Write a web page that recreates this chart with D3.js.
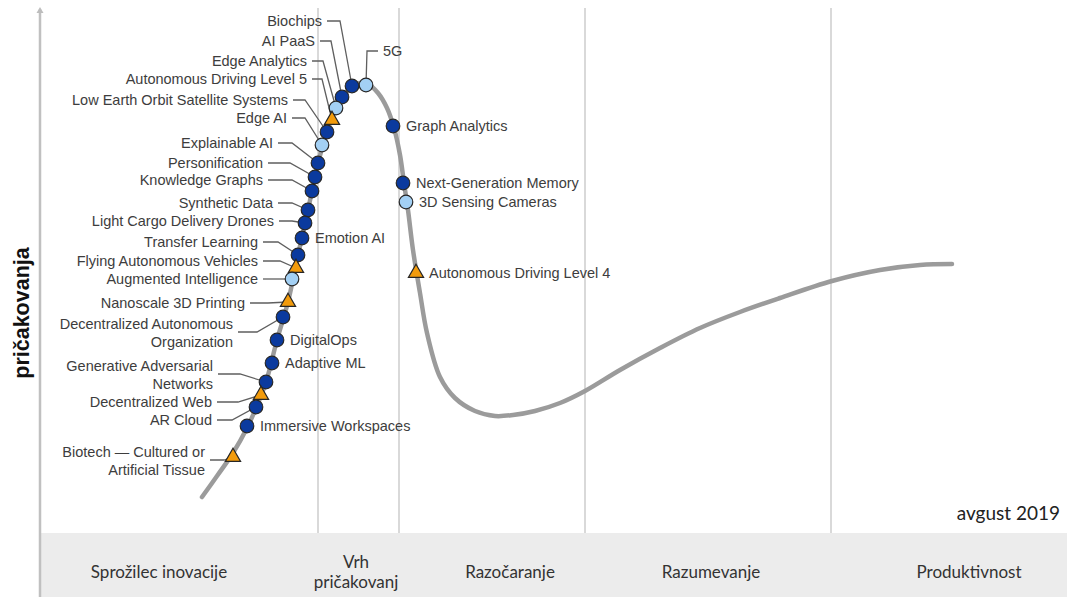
<!DOCTYPE html>
<html>
<head>
<meta charset="utf-8">
<script src="https://cdn.jsdelivr.net/npm/d3@7"></script>
<style>
  html, body { margin: 0; padding: 0; background: #fff; }
  svg { display: block; }
  .tech { font-family: "Liberation Sans", Arial, sans-serif; font-size: 14.5px; fill: #3d3d3d; }
  .phase { font-family: Lato, "Open Sans", sans-serif; font-size: 17px; fill: #333; }
</style>
</head>
<body>
<svg id="chart" width="1067" height="597"></svg>
<script>
// Hype cycle curve (x = time / maturity, y = expectations)
const curveX = [16.2, 17.7, 19.3, 20.7, 21.6, 22.6, 23.7, 24.8, 25.8, 26.8, 27.8, 28.7, 29.6, 30.4, 31.2, 32.0, 32.8, 33.8, 34.7, 35.4, 36.0, 36.4, 36.8, 37.3, 38.0, 38.7, 40.0, 41.5, 43.5, 45.5, 47.3, 49.5, 52.0, 54.5, 58.0, 62.0, 66.0, 70.0, 74.0, 79.2, 84.0, 88.0, 91.2];
const curveY = [7.2, 11.4, 16.0, 21.0, 25.0, 30.2, 38.6, 46.2, 55.6, 64.6, 74.0, 80.2, 85.0, 87.6, 89.2, 90.0, 89.8, 88.0, 85.0, 81.0, 75.6, 70.0, 64.6, 56.6, 48.0, 40.0, 31.2, 27.0, 24.4, 23.4, 23.6, 24.4, 26.0, 28.4, 32.6, 37.0, 41.0, 44.2, 47.0, 50.4, 52.6, 53.6, 53.8];

// Phases of the cycle and the boundaries between them
const phaseNames = ["Sprožilec inovacije", "Vrh\npričakovanj", "Razočaranje", "Razumevanje", "Produktivnost"];
const phaseBounds = [27.8, 35.9, 54.5, 79.1];

// Technologies on the curve and years to mainstream adoption
const techNames = [
  "5G", "Biochips", "AI PaaS", "Edge Analytics", "Autonomous Driving Level 5",
  "Low Earth Orbit Satellite Systems", "Edge AI", "Explainable AI", "Personification",
  "Knowledge Graphs", "Synthetic Data", "Light Cargo Delivery Drones", "Emotion AI",
  "Transfer Learning", "Flying Autonomous Vehicles", "Augmented Intelligence",
  "Nanoscale 3D Printing", "Decentralized Autonomous Organization", "DigitalOps",
  "Adaptive ML", "Generative Adversarial Networks", "Decentralized Web", "AR Cloud",
  "Immersive Workspaces", "Biotech — Cultured or Artificial Tissue",
  "Graph Analytics", "Next-Generation Memory", "3D Sensing Cameras", "Autonomous Driving Level 4"
];
const techX = [32.6, 31.2, 30.2, 29.6, 29.2, 28.7, 28.2, 27.8, 27.5, 27.2, 26.8, 26.5, 26.2, 25.8, 25.6, 25.2, 24.8, 24.3, 23.7, 23.2, 22.6, 22.1, 21.6, 20.7, 19.3, 35.3, 36.3, 36.6, 37.6];
const techY = [89.6, 89.4, 87.2, 85.0, 82.6, 80.2, 77.6, 74.0, 71.2, 68.4, 64.6, 62.0, 59.0, 55.6, 53.0, 50.8, 46.2, 43.2, 38.6, 34.0, 30.2, 27.6, 25.2, 21.4, 15.2, 81.4, 70.0, 66.2, 52.0];
const techYears = ["2-5", "5-10", "5-10", "2-5", "10+", "5-10", "2-5", "5-10", "5-10", "5-10", "5-10", "5-10", "5-10", "5-10", "10+", "2-5", "10+", "5-10", "5-10", "5-10", "5-10", "10+", "5-10", "5-10", "10+", "5-10", "5-10", "2-5", "10+"];

const dateLabel = "avgust 2019";
const yTitle = "pričakovanja";

// ---- layout ----
const W = 1067, H = 597;
const bandTop = 533;
const x = d3.scaleLinear().domain([0, 100]).range([40, 1040]);
const y = d3.scaleLinear().domain([0, 105]).range([bandTop, 8]);

// Left-hand labels: [leader start x, elbow x, leader y] in chart units
const leftLabels = {
  "Biochips": [28.7, 30.0, 102.4],
  "AI PaaS": [28.0, 29.1, 98.4],
  "Edge Analytics": [27.2, 28.3, 94.4],
  "Autonomous Driving Level 5": [27.2, 28.2, 90.8],
  "Low Earth Orbit Satellite Systems": [25.3, 26.5, 86.6],
  "Edge AI": [25.2, 26.5, 83.0],
  "Explainable AI": [23.8, 25.2, 78.0],
  "Personification": [22.8, 25.0, 74.0],
  "Knowledge Graphs": [22.8, 25.2, 70.6],
  "Synthetic Data": [23.8, 25.2, 66.0],
  "Light Cargo Delivery Drones": [23.9, 25.2, 62.4],
  "Transfer Learning": [22.3, 23.8, 58.2],
  "Flying Autonomous Vehicles": [22.3, 24.0, 54.4],
  "Augmented Intelligence": [22.3, 23.8, 50.8],
  "Nanoscale 3D Printing": [21.0, 22.8, 46.0],
  "Decentralized Autonomous Organization": [19.8, 21.7, 40.2],
  "Generative Adversarial Networks": [17.8, 20.0, 31.8],
  "Decentralized Web": [17.7, 19.8, 26.2],
  "AR Cloud": [17.7, 19.2, 22.6],
  "Biotech — Cultured or Artificial Tissue": [17.0, 18.4, 14.6]
};
const wrapped = {
  "Decentralized Autonomous Organization": ["Decentralized Autonomous", "Organization"],
  "Generative Adversarial Networks": ["Generative Adversarial", "Networks"],
  "Biotech — Cultured or Artificial Tissue": ["Biotech — Cultured or", "Artificial Tissue"]
};
const risers = { "5G": 96.4 };   // label lifted above the marker on a vertical leader

const fills = { "2-5": "#a3d0f4", "5-10": "#0b3a9e", "10+": "#f29b0c" };

const svg = d3.select("#chart");

// bottom phase band
svg.append("rect").attr("x", 40).attr("y", bandTop).attr("width", W - 40).attr("height", H - bandTop)
  .attr("fill", "#ececec");

// phase dividers
svg.append("g").selectAll("line").data(phaseBounds).join("line")
  .attr("x1", d => x(d)).attr("x2", d => x(d))
  .attr("y1", 8).attr("y2", bandTop)
  .attr("stroke", "#d9d9d9").attr("stroke-width", 2);

// vertical axis
svg.append("line").attr("x1", 40).attr("x2", 40).attr("y1", 10).attr("y2", H)
  .attr("stroke", "#c0c0c0").attr("stroke-width", 2.5).attr("stroke-linecap", "round");
svg.append("path").attr("d", "M36.5,13 L40,7 L43.5,13 Z").attr("fill", "#bdbdbd");

// axis title
svg.append("text")
  .attr("transform", `translate(29, ${y(44)}) rotate(-90)`)
  .attr("text-anchor", "middle")
  .attr("font-family", "'Liberation Sans', Arial, sans-serif")
  .attr("font-weight", "bold").attr("font-size", 21.5).attr("fill", "#111")
  .text(yTitle);

// phase labels
const phaseCenters = [159, 356, 510, 711, 969];
phaseNames.forEach((name, i) => {
  const lines = name.split("\n");
  const t = svg.append("text").attr("class", "phase").attr("text-anchor", "middle");
  lines.forEach((ln, j) => {
    t.append("tspan").attr("x", phaseCenters[i])
      .attr("y", (lines.length === 1 ? 572 : 562 + j * 20)).attr("dy", "0.35em").text(ln);
  });
});

// date
svg.append("text").attr("x", 1060).attr("y", 513).attr("dy", "0.35em")
  .attr("text-anchor", "end").attr("font-family", "Lato, 'Open Sans', sans-serif")
  .attr("font-size", 19).attr("fill", "#222").text(dateLabel);

// curve
const pts = curveX.map((v, i) => [v, curveY[i]]);
const line = d3.line().x(d => x(d[0])).y(d => y(d[1])).curve(d3.curveCatmullRom.alpha(0.5));
svg.append("path").attr("d", line(pts)).attr("fill", "none")
  .attr("stroke", "#9b9b9b").attr("stroke-width", 4.5).attr("stroke-linecap", "round");

const techs = techNames.map((n, i) => ({ name: n, x: techX[i], y: techY[i], years: techYears[i] }));

// leaders + labels
const leaderG = svg.append("g").attr("fill", "none").attr("stroke", "#5f5f5f").attr("stroke-width", 1.3);
const labelG = svg.append("g");
techs.forEach(d => {
  const mx = x(d.x), my = y(d.y);
  if (leftLabels[d.name]) {
    const [s, e, ly] = leftLabels[d.name];
    leaderG.append("polyline")
      .attr("points", [[x(s), y(ly)], [x(e), y(ly)], [mx, my]].map(p => p.join(",")).join(" "));
    const lines = wrapped[d.name] || [d.name];
    const t = labelG.append("text").attr("class", "tech").attr("text-anchor", "end");
    lines.forEach((ln, j) => {
      const off = lines.length === 1 ? 0 : (j === 0 ? -8.5 : 9.5);
      t.append("tspan").attr("x", x(s) - 5).attr("y", y(ly) + off).attr("dy", "0.35em").text(ln);
    });
  } else if (risers[d.name] !== undefined) {
    const ly = y(risers[d.name]);
    leaderG.append("polyline")
      .attr("points", [[mx, my], [mx + 1, ly], [mx + 12, ly]].map(p => p.join(",")).join(" "));
    labelG.append("text").attr("class", "tech").attr("x", mx + 17).attr("y", ly).attr("dy", "0.35em").text(d.name);
  } else {
    labelG.append("text").attr("class", "tech").attr("x", mx + 13).attr("y", my).attr("dy", "0.35em").text(d.name);
  }
});

// markers
const circle = d3.symbol().type(d3.symbolCircle).size(145);
const tri = d3.symbol().type(d3.symbolTriangle).size(100);
svg.append("g").selectAll("path").data(techs).join("path")
  .attr("transform", d => `translate(${x(d.x)},${y(d.y)})`)
  .attr("d", d => d.years === "10+" ? tri() : circle())
  .attr("fill", d => fills[d.years])
  .attr("stroke", "#262626").attr("stroke-width", 1.2);
</script>
</body>
</html>
